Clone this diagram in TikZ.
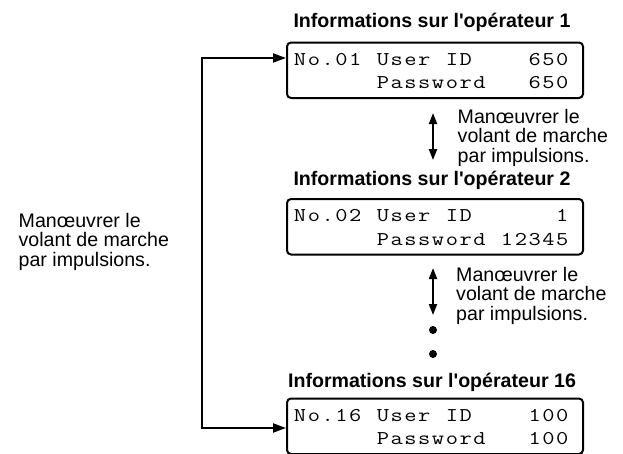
\documentclass[tikz,border=0pt]{standalone}
\usepackage{fontspec}
\usepackage{graphicx}
\newfontfamily\labfont{Liberation Sans}
\usetikzlibrary{arrows.meta,calc}
% one display row: every character sits in a fixed-width cell, like an LCD
\makeatletter
\newcommand{\lcdrow}[1]{\lcd@cells#1\@nil}
\def\lcd@cells#1{\ifx#1\@nil\else\makebox[13.8pt][c]{\scalebox{1.22}[1]{#1}}\expandafter\lcd@cells\fi}
\makeatother

\begin{document}
\begin{tikzpicture}[x=1pt,y=-1pt,
  lcdbox/.style={draw, line width=2pt, rounded corners=4pt,
    minimum width=296pt, minimum height=55.5pt, anchor=north west, inner sep=0pt},
  lcdline/.style={anchor=base west, inner sep=0pt,
    font=\ttfamily\fontsize{19.5}{23}\selectfont},
  boxtitle/.style={anchor=base, inner sep=0pt,
    font=\labfont\bfseries\fontsize{19.6}{23}\selectfont},
  note/.style={anchor=north west, inner sep=0pt, align=left,
    font=\labfont\fontsize{19.6}{19.5}\selectfont},
  link/.style={line width=2pt,
    {Triangle[length=13pt,width=9pt]}-{Triangle[length=13pt,width=9pt]}},
  jog/.style={line width=2pt,
    {Triangle[length=11pt,width=8pt]}-{Triangle[length=11pt,width=8pt]}}
]
\useasboundingbox (0,0) rectangle (623,453);

% operator 1
\node[boxtitle] (t1) at (432,27) {Informations sur l'opérateur 1};
\node[lcdbox] (box1) at (286,41.5) {};
\node[lcdline] (b1a) at (293,65) {\lcdrow{No.01~User~ID~~~~650}};
\node[lcdline] (b1b) at (293,88.5) {\lcdrow{~~~~~~Password~~~650}};

% operator 2
\node[boxtitle] (t2) at (432,185) {Informations sur l'opérateur 2};
\node[lcdbox] (box2) at (286,198) {};
\node[lcdline] (b2a) at (293,221.5) {\lcdrow{No.02~User~ID~~~~~~1}};
\node[lcdline] (b2b) at (293,245) {\lcdrow{~~~~~~Password~12345}};

% operator 16
\node[boxtitle] (t3) at (432,387) {Informations sur l'opérateur 16};
\node[lcdbox] (box3) at (286,397.5) {};
\node[lcdline] (b3a) at (293,421) {\lcdrow{No.16~User~ID~~~~100}};
\node[lcdline] (b3b) at (293,444.5) {\lcdrow{~~~~~~Password~~~100}};

% jog-dial hints
\node[note] (n1) at (457.5,109) {Manœuvrer le\\volant de marche\\par impulsions.};
\node[note] (n2) at (456,267) {Manœuvrer le\\volant de marche\\par impulsions.};
\node[note] (n0) at (18.5,213) {Manœuvrer le\\volant de marche\\par impulsions.};

% step arrows between the displays
\coordinate (s1a) at (433,113);
\coordinate (s1b) at (433,160);
\coordinate (s2a) at (433,268);
\coordinate (s2b) at (433,315);
\draw[jog] (s1a) -- (s1b);
\draw[jog] (s2a) -- (s2b);

% ellipsis dots
\node[circle, fill, inner sep=0pt, minimum size=8pt] (d1) at (433,330) {};
\node[circle, fill, inner sep=0pt, minimum size=8pt] (d2) at (433,354) {};

% wrap-around connector from the last display back to the first
\coordinate (in1) at ($(box1.north west)+(0,16.5)$);
\coordinate (in3) at ($(box3.north west)+(0,30.5)$);
\coordinate (up) at (202,58);
\coordinate (down) at (202,428);
\draw[link] (in1) -- (up |- in1) -- (down |- in3) -- (in3);
\end{tikzpicture}
\end{document}
